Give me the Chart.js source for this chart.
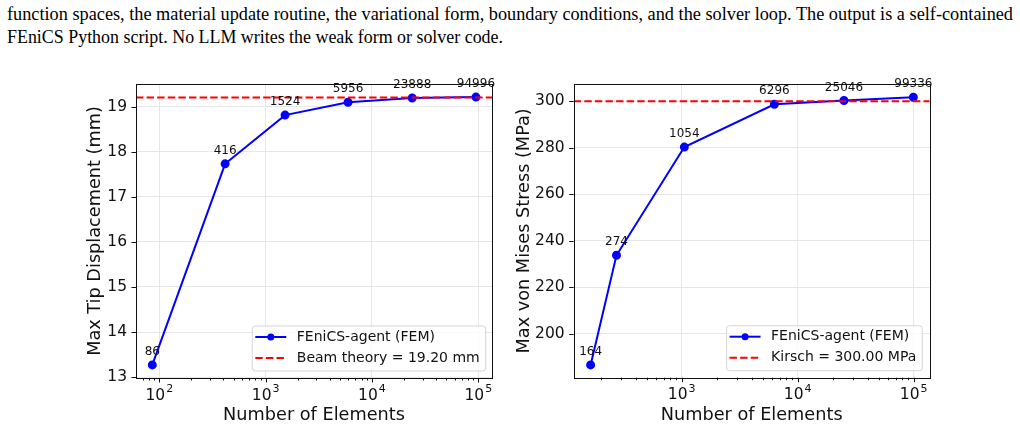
<!DOCTYPE html>
<html>
<head>
<meta charset="utf-8">
<script src="https://cdn.jsdelivr.net/npm/chart.js@4.4.1/dist/chart.umd.min.js"></script>
<style>
  html, body { margin: 0; padding: 0; background: #fff; }
  #page { position: relative; width: 1020px; height: 426px; overflow: hidden; }
  .txt { position: absolute; left: 7px; font-family: 'Liberation Serif', serif; font-size: 18px; line-height: 23px; color: #000; white-space: nowrap; transform-origin: 0 0; }
  #line1 { top: 2.5px; }
  #line2 { top: 26px; }
  canvas { position: absolute; top: 0; }
</style>
</head>
<body>
<div id="page">
  <div class="txt" id="line1">function spaces, the material update routine, the variational form, boundary conditions, and the solver loop. The output is a self-contained</div>
  <div class="txt" id="line2">FEniCS Python script. No LLM writes the weak form or solver code.</div>
  <canvas id="disp" width="510" height="426" style="left:0"></canvas>
  <canvas id="stress" width="510" height="426" style="left:510px"></canvas>
</div>
<script>
// Convergence of tip displacement (cantilever)
const dispElements = [86, 416, 1524, 5956, 23888, 94996]
const dispValues = [13.27, 17.73, 18.81, 19.095, 19.19, 19.21]
const beamTheory = 19.20

// Convergence of max von Mises stress (plate with hole)
const stressElements = [164, 274, 1054, 6296, 25046, 99336]
const stressValues = [186.7, 233.8, 280.3, 298.7, 300.3, 301.7]
const kirsch = 300.00

// fit the paper text lines to the widths seen in the picture
const fitLine = (id, width) => {
  const el = document.getElementById(id)
  const w = el.getBoundingClientRect().width
  el.style.transform = `scaleX(${width / w})`
}
fitLine('line1', 1006)
fitLine('line2', 496)

Chart.defaults.font.family = 'DejaVu Sans'
Chart.defaults.color = '#111'

// ticks at d * 10^p, the powers of ten are the major ones
const logTicks = (axis) => {
  const ticks = []
  for (let p = 0; p <= 6; p++) {
    for (let d = 1; d <= 9; d++) {
      const v = d * Math.pow(10, p)
      if (v >= axis.min && v <= axis.max) ticks.push({ value: v, major: d === 1 })
    }
  }
  axis.ticks = ticks
}

const stepTicks = (step) => (axis) => {
  const ticks = []
  for (let v = Math.ceil(axis.min / step) * step; v <= axis.max + 1e-9; v += step) {
    ticks.push({ value: Math.round(v * 1e6) / 1e6 })
  }
  axis.ticks = ticks
}

// frame, tick marks, 10^n labels, point labels and legend, matplotlib style
const frame = {
  id: 'frame',
  afterDatasetsDraw(chart) {
    const { ctx, chartArea: a, scales } = chart
    ctx.save()
    ctx.strokeStyle = '#111'
    ctx.lineWidth = 1
    ctx.strokeRect(Math.round(a.left) + 0.5, Math.round(a.top) + 0.5, Math.round(a.right - a.left), Math.round(a.bottom - a.top))
    ctx.beginPath()
    for (const t of scales.x.ticks) {
      const px = Math.round(scales.x.getPixelForValue(t.value)) + 0.5
      ctx.moveTo(px, a.bottom)
      ctx.lineTo(px, a.bottom + (t.major ? 4.5 : 2.5))
    }
    for (const t of scales.y.ticks) {
      const py = Math.round(scales.y.getPixelForValue(t.value)) + 0.5
      ctx.moveTo(a.left - 4.5, py)
      ctx.lineTo(a.left, py)
    }
    ctx.stroke()

    // x labels as 10 with a raised exponent
    ctx.fillStyle = '#111'
    ctx.textBaseline = 'alphabetic'
    ctx.textAlign = 'left'
    for (const t of scales.x.ticks) {
      if (!t.major) continue
      const exp = String(Math.round(Math.log10(t.value)))
      ctx.font = '15.5px "DejaVu Sans"'
      const wb = ctx.measureText('10').width
      ctx.font = '11px "DejaVu Sans"'
      const we = ctx.measureText(exp).width
      const x0 = scales.x.getPixelForValue(t.value) - (wb + we + 1) / 2
      ctx.font = '15.5px "DejaVu Sans"'
      ctx.fillText('10', x0, a.bottom + 21.5)
      ctx.font = '11px "DejaVu Sans"'
      ctx.fillText(exp, x0 + wb + 1, a.bottom + 13.8)
    }
    ctx.restore()
  },
  afterDraw(chart, args, opts) {
    const { ctx, chartArea: a } = chart
    ctx.save()
    chart.data.datasets.forEach((s, i) => {
      if (!s.annotate) return
      const meta = chart.getDatasetMeta(i)
      ctx.font = '12px "DejaVu Sans"'
      ctx.fillStyle = '#111'
      ctx.textAlign = 'center'
      ctx.textBaseline = 'middle'
      meta.data.forEach((el, j) => {
        ctx.fillText(String(s.data[j].x), el.x, el.y - 13)
      })
    })
    // legend box, lower right
    const sets = chart.data.datasets
    ctx.font = '14px "DejaVu Sans"'
    const textW = Math.max(...sets.map(s => ctx.measureText(s.label).width))
    const w = 3 + 31 + 10.5 + textW + 6
    const h = 45
    const x = a.right - opts.right - w
    const y = a.bottom - opts.bottom - h
    ctx.beginPath()
    ctx.roundRect(x, y, w, h, 3)
    ctx.fillStyle = 'rgba(255,255,255,0.8)'
    ctx.fill()
    ctx.strokeStyle = 'rgba(204,204,204,0.8)'
    ctx.lineWidth = 1
    ctx.stroke()
    sets.forEach((s, i) => {
      const cy = y + 11 + 21 * i
      ctx.strokeStyle = s.borderColor
      ctx.lineWidth = s.borderWidth
      ctx.setLineDash(s.borderDash || [])
      ctx.beginPath()
      ctx.moveTo(x + 3, cy)
      ctx.lineTo(x + 34, cy)
      ctx.stroke()
      ctx.setLineDash([])
      if (s.pointRadius > 0) {
        ctx.beginPath()
        ctx.arc(x + 18.5, cy, s.pointRadius, 0, Math.PI * 2)
        ctx.fillStyle = s.backgroundColor
        ctx.fill()
      }
      ctx.fillStyle = '#111'
      ctx.textAlign = 'left'
      ctx.textBaseline = 'middle'
      ctx.fillText(s.label, x + 44.5, cy)
    })
    ctx.restore()
  }
}

const makeChart = (id, cfg) => new Chart(document.getElementById(id), {
  type: 'line',
  data: {
    datasets: [{
      label: 'FEniCS-agent (FEM)',
      data: cfg.xs.map((x, i) => ({ x, y: cfg.ys[i] })),
      borderColor: '#0000ff',
      backgroundColor: '#0000ff',
      borderWidth: 2,
      pointRadius: 3.5,
      pointHoverRadius: 3.5,
      annotate: true,
      order: 1
    }, {
      label: cfg.refLabel,
      data: [{ x: cfg.xMin, y: cfg.ref }, { x: cfg.xMax, y: cfg.ref }],
      borderColor: '#ff0000',
      borderWidth: 2,
      borderDash: [7.4, 3.2],
      pointRadius: 0,
      order: 0
    }]
  },
  options: {
    responsive: false,
    animation: false,
    events: [],
    layout: { padding: { left: cfg.padLeft, right: cfg.padRight, top: 84, bottom: 0 } },
    plugins: {
      legend: { display: false },
      tooltip: { enabled: false },
      frame: { right: cfg.legRight, bottom: 7 }
    },
    scales: {
      x: {
        type: 'logarithmic',
        min: cfg.xMin,
        max: cfg.xMax,
        afterBuildTicks: logTicks,
        afterFit: (s) => { s.height = 426 - cfg.bottom },
        border: { display: false },
        grid: {
          drawTicks: false,
          lineWidth: 1,
          color: (c) => (c.tick && c.tick.major ? '#e7e7e7' : 'rgba(0,0,0,0)')
        },
        ticks: { autoSkip: false, maxRotation: 0, callback: () => '' },
        title: { display: true, text: 'Number of Elements', font: { size: 17.7 }, padding: 0 }
      },
      y: {
        min: cfg.yMin,
        max: cfg.yMax,
        afterBuildTicks: stepTicks(cfg.yStep),
        afterFit: (s) => { s.width = cfg.left - cfg.padLeft },
        border: { display: false },
        grid: { drawTicks: false, lineWidth: 1, color: '#e7e7e7' },
        ticks: { padding: 9, font: { size: 15.5 } },
        title: { display: true, text: cfg.yTitle, font: { size: 17.7 }, padding: 0 }
      }
    }
  },
  plugins: [frame]
})

makeChart('disp', {
  xs: dispElements, ys: dispValues, ref: beamTheory,
  refLabel: `Beam theory = ${beamTheory.toFixed(2)} mm`,
  yTitle: 'Max Tip Displacement (mm)',
  xMin: 60.4, xMax: 134500, yMin: 12.98, yMax: 19.5, yStep: 1,
  left: 136, padLeft: 85, padRight: 18, bottom: 378, legRight: 6.3
})

makeChart('stress', {
  xs: stressElements, ys: stressValues, ref: kirsch,
  refLabel: `Kirsch = ${kirsch.toFixed(2)} MPa`,
  yTitle: 'Max von Mises Stress (MPa)',
  xMin: 117.2, xMax: 137400, yMin: 181.2, yMax: 307.4, yStep: 20,
  left: 63.7, padLeft: 4, padRight: 90.3, bottom: 377.7, legRight: 7.4
})
</script>
</body>
</html>
